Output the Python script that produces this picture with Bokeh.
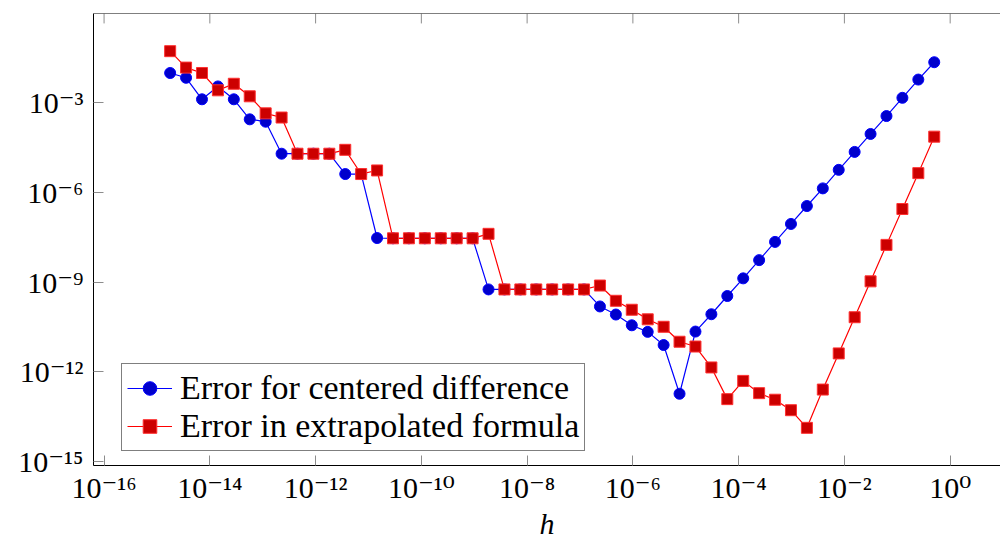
from bokeh.plotting import figure
from bokeh.models import Range1d, FixedTicker, Legend, LegendItem, Span
from bokeh.embed import file_html
from bokeh.resources import INLINE

# step sizes h = 2^-k, k = 1..49
k_values = list(range(1, 50))
h = [2.0 ** -k for k in k_values]

# log10 of the errors (k = 1..49)
log10_err_centered = [
    -1.64, -2.22, -2.83, -3.44, -4.04, -4.64, -5.24, -5.86, -6.45, -7.05,
    -7.65, -8.26, -8.87, -9.46, -10.07, -10.65, -12.73, -11.10, -10.66, -10.44,
    -10.08, -9.81, -9.24, -9.24, -9.24, -9.24, -9.24, -9.24, -9.24, -7.53,
    -7.53, -7.53, -7.53, -7.53, -7.53, -7.52, -5.38, -5.38, -4.70, -4.70,
    -4.70, -4.70, -3.63, -3.55, -2.88, -2.45, -2.88, -2.16, -2.00,
]
log10_err_extrap = [
    -4.13, -5.35, -6.55, -7.75, -8.97, -10.17, -11.38, -12.59, -13.87, -13.28,
    -12.93, -12.71, -12.30, -12.91, -11.85, -11.15, -10.99, -10.49, -10.24, -9.92,
    -9.62, -9.11, -9.24, -9.24, -9.24, -9.24, -9.24, -9.24, -7.38, -7.53,
    -7.53, -7.53, -7.53, -7.53, -7.53, -5.26, -5.38, -4.57, -4.70, -4.70,
    -4.70, -3.49, -3.35, -2.78, -2.36, -2.58, -2.00, -1.82, -1.27,
]
err_centered = [10.0 ** v for v in log10_err_centered]
err_extrap = [10.0 ** v for v in log10_err_extrap]

x_tick_exponents = [-16, -14, -12, -10, -8, -6, -4, -2, 0]
y_tick_exponents = [-15, -12, -9, -6, -3]
series_labels = ["Error for centered difference", "Error in extrapolated formula"]
x_label = "h"

SUP = str.maketrans("-0123456789", "⁻⁰¹²³⁴⁵⁶⁷⁸⁹")
def tex10(e):
    return "10" + str(e).translate(SUP)

x_ticks = [10.0 ** e for e in x_tick_exponents]
y_ticks = [10.0 ** e for e in y_tick_exponents]

FONT = "Liberation Serif, DejaVu Serif, serif"
TICK_COLOR = "#8c8c8c"

FRAME_H = 455
Y_LO, Y_HI = -15.13, -0.01
X_LO, X_HI = -16.2, 0.952

p = figure(width=1000, height=542, x_axis_type="log", y_axis_type="log",
           x_range=Range1d(10 ** X_LO, 10 ** X_HI),
           y_range=Range1d(10 ** Y_LO, 10 ** Y_HI),
           output_backend="svg", toolbar_location=None,
           min_border_left=93, min_border_right=0, min_border_top=13,
           min_border_bottom=542 - 13 - FRAME_H)
p.outline_line_color = None
p.grid.visible = False
p.background_fill_color = "white"

def style_axis(ax, ticks, exps):
    ax.ticker = FixedTicker(ticks=ticks)
    ax.major_label_overrides = {t: tex10(e) for t, e in zip(ticks, exps)}
    ax.major_tick_in = 10
    ax.major_tick_out = 0
    ax.major_tick_line_color = TICK_COLOR
    ax.major_tick_line_width = 1
    ax.minor_tick_line_color = None
    ax.axis_line_color = "black"
    ax.axis_line_width = 1
    ax.major_label_text_font = FONT
    ax.major_label_text_color = "black"
    ax.major_label_text_font_size = "30px"

style_axis(p.xaxis[0], x_ticks, x_tick_exponents)
p.xaxis[0].major_label_standoff = 5
p.xaxis[0].axis_label = x_label
p.xaxis[0].axis_label_text_font = FONT
p.xaxis[0].axis_label_text_font_style = "italic"
p.xaxis[0].axis_label_text_font_size = "30px"
p.xaxis[0].axis_label_text_color = "black"
p.xaxis[0].axis_label_standoff = 0
style_axis(p.yaxis[0], y_ticks, y_tick_exponents)
p.yaxis[0].major_label_standoff = 10

# top border with inward ticks (mirrored x ticks)
p.add_layout(Span(location=10 ** Y_HI, dimension="width", line_color="black", line_width=1))
tick_len_decades = 10 * (Y_HI - Y_LO) / FRAME_H
p.segment(x0=x_ticks, x1=x_ticks, y0=[10 ** Y_HI] * len(x_ticks),
          y1=[10 ** (Y_HI - tick_len_decades)] * len(x_ticks),
          line_color=TICK_COLOR, line_width=1)

bl = p.line(h, err_centered, line_color="#0000FF", line_width=1.2)
bs = p.scatter(h, err_centered, marker="circle", size=11,
               fill_color="#0000CC", line_color="#0000FF", line_width=1)
rl = p.line(h, err_extrap, line_color="#FF0000", line_width=1.2)
rs = p.scatter(h, err_extrap, marker="square", size=11,
               fill_color="#CC0000", line_color="#FF3030", line_width=1)

legend = Legend(items=[LegendItem(label=series_labels[0], renderers=[bl, bs]),
                       LegendItem(label=series_labels[1], renderers=[rl, rs])],
                location=(28, 14), margin=0,
                border_line_color="black", border_line_width=1,
                background_fill_color="white", background_fill_alpha=1,
                label_text_font=FONT, label_text_font_size="34px",
                label_text_color="black",
                glyph_width=45, glyph_height=34, label_height=34,
                spacing=0, padding=5, label_standoff=8)
p.add_layout(legend)

open("out.html", "w").write(file_html(p, INLINE))
